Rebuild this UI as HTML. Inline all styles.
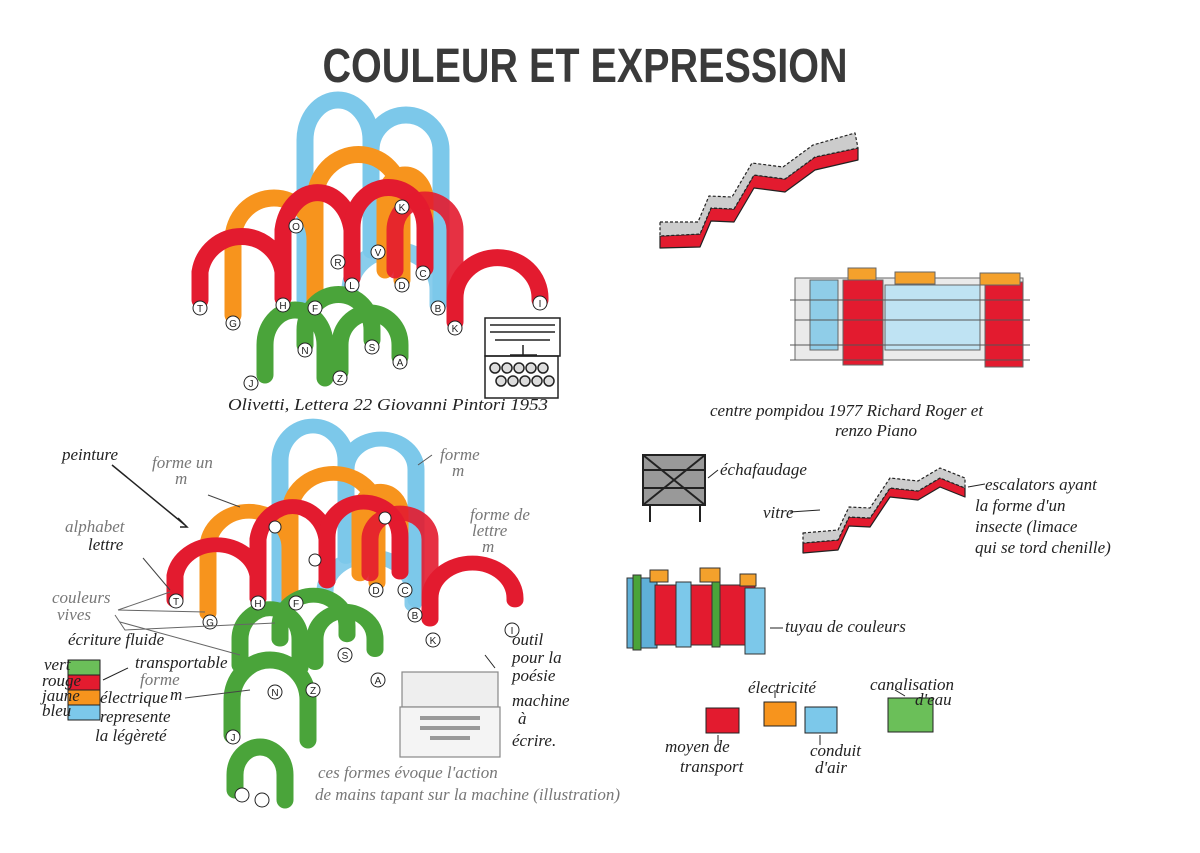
<!DOCTYPE html>
<html><head><meta charset="utf-8"><style>
body{margin:0;background:#fff;}
svg text{font-family:"Liberation Sans",sans-serif;}
.h{font-family:"Liberation Serif",serif;font-style:italic;fill:#222;font-size:17px;}
.g{fill:#777;}
</style></head><body>
<svg width="1200" height="848" viewBox="0 0 1200 848" xmlns="http://www.w3.org/2000/svg">
<rect width="1200" height="848" fill="#fff"/>
<text x="585" y="82" text-anchor="middle" font-size="48" font-weight="bold" fill="#3a3a3a" style="font-family:'Liberation Sans Narrow','Liberation Sans',sans-serif" textLength="525" lengthAdjust="spacingAndGlyphs">COULEUR ET EXPRESSION</text>

<defs>
<g id="arches" fill="none" stroke-width="17" stroke-linecap="round">
 <path d="M305 300 V140 A33 40 0 0 1 371 140 V250" stroke="#7cc8ea"/>
 <path d="M371 150 A35 35 0 0 1 441 150 V300" stroke="#7cc8ea"/>
 <path d="M350 290 A44 40 0 0 1 438 290 V305" stroke="#7cc8ea" opacity=".9"/>
 <path d="M233 315 V240 A41 42 0 0 1 315 240 V305" stroke="#f7941d"/>
 <path d="M315 300 V200 A43 45 0 0 1 402 200 V280" stroke="#f7941d"/>
 <path d="M385 270 V200 A20 25 0 0 1 425 200 V265" stroke="#f7941d"/>
 <path d="M200 300 V272 A42 42 0 0 1 283 272 V298" stroke="#e31b2f"/>
 <path d="M283 298 V230 A35 45 0 0 1 352 230 V278" stroke="#e31b2f"/>
 <path d="M352 278 V228 A36 40 0 0 1 425 228 V268" stroke="#e31b2f"/>
 <path d="M395 270 V230 A30 30 0 0 1 455 230 V320" stroke="#e31b2f" opacity=".9"/>
 <path d="M455 322 V298 A42 40 0 0 1 540 298 V300" stroke="#e31b2f"/>
 <path d="M265 375 V345 A30 35 0 0 1 325 345 V378" stroke="#4aa43a"/>
 <path d="M305 345 V330 A33 35 0 0 1 372 330 V340" stroke="#4aa43a"/>
 <path d="M340 372 V345 A30 32 0 0 1 400 345 V357" stroke="#4aa43a"/>
</g>
</defs>

<use href="#arches"/>
<g font-size="10" text-anchor="middle" fill="#222">
<g fill="#fff" stroke="#222" stroke-width="1">
<circle cx="200" cy="308" r="7"/><circle cx="233" cy="323" r="7"/><circle cx="283" cy="305" r="7"/><circle cx="315" cy="308" r="7"/><circle cx="338" cy="262" r="7"/><circle cx="352" cy="285" r="7"/><circle cx="378" cy="252" r="7"/><circle cx="402" cy="285" r="7"/><circle cx="423" cy="273" r="7"/><circle cx="438" cy="308" r="7"/><circle cx="455" cy="328" r="7"/><circle cx="540" cy="303" r="7"/><circle cx="296" cy="226" r="7"/><circle cx="402" cy="207" r="7"/><circle cx="305" cy="350" r="7"/><circle cx="340" cy="378" r="7"/><circle cx="372" cy="347" r="7"/><circle cx="400" cy="362" r="7"/><circle cx="251" cy="383" r="7"/>
</g>
<text x="200" y="312">T</text><text x="233" y="327">G</text><text x="283" y="309">H</text><text x="315" y="312">F</text><text x="338" y="266">R</text><text x="352" y="289">L</text><text x="378" y="256">V</text><text x="402" y="289">D</text><text x="423" y="277">C</text><text x="438" y="312">B</text><text x="455" y="332">K</text><text x="540" y="307">I</text><text x="296" y="230">O</text><text x="402" y="211">K</text><text x="305" y="354">N</text><text x="340" y="382">Z</text><text x="372" y="351">S</text><text x="400" y="366">A</text><text x="251" y="387">J</text>
</g>

<!-- typewriter top -->
<g stroke="#222" fill="none" stroke-width="1.5">
<rect x="485" y="318" width="75" height="38"/><path d="M490 325 H555 M490 332 H555 M495 340 H550 M523 345 V355 M510 355 H537"/>
<rect x="485" y="356" width="73" height="42"/>
<g fill="#ddd"><circle cx="495" cy="368" r="5"/><circle cx="507" cy="368" r="5"/><circle cx="519" cy="368" r="5"/><circle cx="531" cy="368" r="5"/><circle cx="543" cy="368" r="5"/><circle cx="501" cy="381" r="5"/><circle cx="513" cy="381" r="5"/><circle cx="525" cy="381" r="5"/><circle cx="537" cy="381" r="5"/><circle cx="549" cy="381" r="5"/></g>
</g>
<text x="228" y="410" class="h" font-size="20" textLength="320" lengthAdjust="spacingAndGlyphs">Olivetti, Lettera 22 Giovanni Pintori 1953</text>

<!-- bottom arches -->
<g transform="translate(-25,339) scale(1,0.87)"><use href="#arches"/></g>
<g fill="none" stroke-width="17" stroke-linecap="round">
<path d="M232 735 V700 A38 40 0 0 1 308 700 V740" stroke="#4aa43a"/>
<path d="M235 790 V775 A25 28 0 0 1 285 775 V800" stroke="#4aa43a"/>
</g>
<g font-size="10" text-anchor="middle" fill="#222"><g fill="#fff" stroke="#222">
<circle cx="176" cy="601" r="7"/><circle cx="210" cy="622" r="7"/><circle cx="258" cy="603" r="7"/><circle cx="296" cy="603" r="7"/><circle cx="376" cy="590" r="7"/><circle cx="405" cy="590" r="7"/><circle cx="415" cy="615" r="7"/><circle cx="433" cy="640" r="7"/><circle cx="512" cy="630" r="7"/><circle cx="275" cy="692" r="7"/><circle cx="313" cy="690" r="7"/><circle cx="345" cy="655" r="7"/><circle cx="378" cy="680" r="7"/><circle cx="233" cy="737" r="7"/><circle cx="242" cy="795" r="7"/><circle cx="262" cy="800" r="7"/><circle cx="275" cy="527" r="6"/><circle cx="315" cy="560" r="6"/><circle cx="385" cy="518" r="6"/>
</g>
<text x="176" y="605">T</text><text x="210" y="626">G</text><text x="258" y="607">H</text><text x="296" y="607">F</text><text x="376" y="594">D</text><text x="405" y="594">C</text><text x="415" y="619">B</text><text x="433" y="644">K</text><text x="512" y="634">I</text><text x="275" y="696">N</text><text x="313" y="694">Z</text><text x="345" y="659">S</text><text x="378" y="684">A</text><text x="233" y="741">J</text>
</g>

<!-- bottom-left annotations -->
<text x="62" y="460" class="h" font-size="19">peinture</text>
<path d="M112 465 L185 525 M178 518 L187 527 L180 527" stroke="#222" fill="none" stroke-width="1.5"/>
<text x="152" y="468" class="h g" font-size="17">forme un</text><text x="175" y="484" class="h g" font-size="17">m</text>
<path d="M208 495 L240 507" stroke="#444"/>
<text x="65" y="532" class="h g" font-size="17">alphabet</text><text x="88" y="550" class="h" font-size="16">lettre</text>
<path d="M143 558 L170 590" stroke="#444"/>
<text x="52" y="603" class="h g" font-size="16">couleurs</text><text x="57" y="620" class="h g" font-size="16">vives</text>
<path d="M118 610 L170 592 M118 610 L205 612 M115 615 L125 630 L275 623 M120 622 L240 655" stroke="#666" fill="none"/>
<text x="68" y="645" class="h" font-size="14">écriture fluide</text>
<rect x="68" y="660" width="32" height="15" fill="#6bbf59" stroke="#222"/>
<rect x="68" y="675" width="32" height="15" fill="#e31b2f" stroke="#222"/>
<rect x="68" y="690" width="32" height="15" fill="#f7941d" stroke="#222"/>
<rect x="68" y="705" width="32" height="15" fill="#7cc8ea" stroke="#222"/>
<text x="44" y="670" class="h" font-size="13">vert</text><text x="42" y="686" class="h" font-size="13">rouge</text><text x="42" y="701" class="h" font-size="13">jaune</text><text x="42" y="716" class="h" font-size="13">bleu</text>
<text x="135" y="668" class="h" font-size="15">transportable</text>
<path d="M103 680 L128 668" stroke="#222"/>
<text x="140" y="685" class="h g" font-size="15">forme</text><text x="170" y="700" class="h" font-size="14">m</text>
<text x="100" y="703" class="h" font-size="14">électrique</text>
<text x="100" y="722" class="h" font-size="15">represente</text><text x="95" y="741" class="h" font-size="15">la légèreté</text>
<path d="M185 698 L250 690" stroke="#444"/>

<text x="440" y="460" class="h g" font-size="15">forme</text><text x="452" y="476" class="h g" font-size="15">m</text>
<path d="M432 455 L418 465" stroke="#555"/>
<text x="470" y="520" class="h g" font-size="15">forme de</text><text x="472" y="536" class="h g" font-size="15">lettre</text><text x="482" y="552" class="h g" font-size="15">m</text>

<!-- grey typewriter -->
<g stroke="#888" fill="#eee" stroke-width="1.2">
<rect x="402" y="672" width="96" height="35"/><rect x="400" y="707" width="100" height="50" fill="#f4f4f4"/>
<path d="M420 718 H480 M420 728 H480 M430 738 H470" stroke="#999" stroke-width="4"/>
</g>
<text x="512" y="645" class="h" font-size="15">outil</text><text x="512" y="663" class="h" font-size="15">pour la</text><text x="512" y="681" class="h" font-size="15">poésie</text>
<text x="512" y="706" class="h" font-size="15">machine</text><text x="518" y="724" class="h" font-size="15">à</text><text x="512" y="746" class="h" font-size="15">écrire.</text>
<path d="M485 655 L495 668" stroke="#222"/>
<text x="318" y="778" class="h g" font-size="16">ces formes évoque l'action</text>
<text x="315" y="800" class="h g" font-size="16">de mains tapant sur la machine (illustration)</text>

<!-- escalator top -->
<g stroke="#222" stroke-width="1.2" stroke-linejoin="round">
<path d="M660 236 L700 234 L711 208 L734 209 L754 175 L785 179 L815 157 L858 148 L858 160 L815 170 L785 192 L754 188 L734 222 L711 221 L700 247 L660 248 Z" fill="#e31b2f"/>
<path d="M660 222 L698 222 L709 196 L732 197 L752 163 L783 167 L813 145 L855 133 L858 148 L815 157 L785 179 L754 175 L734 209 L711 208 L700 234 L660 236 Z" fill="#ccc" stroke-dasharray="3 2"/>
</g>

<!-- pompidou -->
<g stroke="#666" stroke-width="1">
<rect x="795" y="278" width="228" height="82" fill="#eaeaea"/>
<rect x="810" y="280" width="28" height="70" fill="#8fcde8"/>
<rect x="843" y="280" width="40" height="85" fill="#e31b2f"/>
<rect x="885" y="285" width="95" height="65" fill="#bfe3f3"/>
<rect x="985" y="282" width="38" height="85" fill="#e31b2f"/>
<rect x="848" y="268" width="28" height="12" fill="#f4a12c"/><rect x="895" y="272" width="40" height="12" fill="#f4a12c"/><rect x="980" y="273" width="40" height="12" fill="#f4a12c"/>
<path d="M790 345 H1030 M790 360 H1030 M790 300 H1030 M795 320 H1030" stroke="#555"/>
</g>
<text x="710" y="416" class="h" font-size="18">centre pompidou 1977 Richard Roger et</text>
<text x="835" y="436" class="h" font-size="18">renzo Piano</text>

<!-- scaffolding -->
<g stroke="#222" stroke-width="2" fill="none">
<rect x="643" y="455" width="62" height="50" fill="#999"/><path d="M643 470 H705 M643 488 H705 M643 455 L705 505 M705 455 L643 505 M650 505 V522 M700 505 V522"/>
</g>
<text x="720" y="475" class="h" font-size="16">échafaudage</text>
<path d="M718 470 L708 478" stroke="#222"/>

<!-- escalator 2 -->
<g stroke="#222" stroke-width="1.2" stroke-linejoin="round">
<path d="M803 543 L838 540 L849 517 L870 518 L890 488 L918 491 L940 478 L965 488 L965 497 L940 487 L918 500 L890 497 L870 527 L849 526 L838 550 L803 553 Z" fill="#e31b2f"/>
<path d="M803 533 L838 530 L849 507 L870 508 L890 478 L918 481 L940 468 L965 478 L965 488 L940 478 L918 491 L890 488 L870 518 L849 517 L838 540 L803 543 Z" fill="#ccc" stroke-dasharray="3 2"/>
</g>
<text x="763" y="518" class="h" font-size="15">vitre</text><path d="M790 512 L820 510" stroke="#222"/>
<path d="M968 487 L985 484" stroke="#222"/>
<text x="985" y="490" class="h" font-size="16">escalators ayant</text>
<text x="975" y="511" class="h" font-size="16">la forme d'un</text>
<text x="975" y="532" class="h" font-size="16">insecte (limace</text>
<text x="975" y="553" class="h" font-size="16">qui se tord chenille)</text>

<!-- tuyaux -->
<g stroke="#333" stroke-width="1">
<rect x="627" y="578" width="30" height="70" fill="#5fb0d8"/><rect x="655" y="585" width="100" height="60" fill="#e31b2f"/>
<rect x="633" y="575" width="8" height="75" fill="#4aa43a"/><rect x="676" y="582" width="15" height="65" fill="#7cc8ea"/><rect x="712" y="582" width="8" height="65" fill="#4aa43a"/><rect x="745" y="588" width="20" height="66" fill="#7cc8ea"/>
<rect x="650" y="570" width="18" height="12" fill="#f4a12c"/><rect x="700" y="568" width="20" height="14" fill="#f4a12c"/><rect x="740" y="574" width="16" height="12" fill="#f4a12c"/>
</g>
<text x="785" y="632" class="h" font-size="17">tuyau de couleurs</text>
<path d="M770 628 H783" stroke="#222"/>

<!-- color legend -->
<rect x="706" y="708" width="33" height="25" fill="#e31b2f" stroke="#222"/>
<rect x="764" y="702" width="32" height="24" fill="#f7941d" stroke="#222"/>
<rect x="805" y="707" width="32" height="26" fill="#7cc8ea" stroke="#222"/>
<rect x="888" y="698" width="45" height="34" fill="#6bbf59" stroke="#222"/>
<text x="748" y="693" class="h" font-size="14">électricité</text>
<text x="870" y="690" class="h" font-size="14">canalisation</text><text x="915" y="705" class="h" font-size="14">d'eau</text>
<text x="665" y="752" class="h" font-size="15">moyen de</text><text x="680" y="772" class="h" font-size="15">transport</text>
<text x="810" y="756" class="h" font-size="15">conduit</text><text x="815" y="773" class="h" font-size="15">d'air</text>
<path d="M718 745 V735 M820 745 V735 M775 698 V690 M905 696 L895 690" stroke="#222"/>
</svg>
</body></html>
